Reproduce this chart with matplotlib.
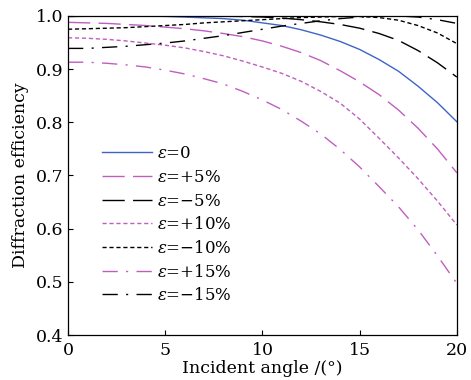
import numpy as np
import matplotlib
matplotlib.use('Agg')
import matplotlib.pyplot as plt

# Incident angle (deg) and diffraction efficiency
angle = np.arange(0, 21, 1)

eff_0 = [1.0, 1.0, 1.0, 0.9999, 0.9997, 0.9992, 0.998, 0.9965, 0.995, 0.992, 0.987,
         0.982, 0.974, 0.964, 0.952, 0.937, 0.918, 0.896, 0.868, 0.837, 0.801]
eff_p5 = [0.988, 0.987, 0.986, 0.984, 0.982, 0.979, 0.976, 0.972, 0.967, 0.961, 0.953,
          0.943, 0.931, 0.916, 0.897, 0.876, 0.852, 0.823, 0.789, 0.750, 0.705]
eff_m5 = [0.999, 0.9995, 1.0, 1.0, 1.0, 1.0, 1.0, 1.0, 0.9995, 0.999, 0.998,
          0.996, 0.993, 0.989, 0.984, 0.977, 0.967, 0.954, 0.935, 0.912, 0.885]
eff_p10 = [0.959, 0.958, 0.956, 0.953, 0.949, 0.945, 0.940, 0.933, 0.925, 0.915, 0.904,
           0.892, 0.877, 0.858, 0.836, 0.806, 0.770, 0.733, 0.694, 0.652, 0.607]
eff_m10 = [0.975, 0.976, 0.977, 0.978, 0.980, 0.982, 0.984, 0.987, 0.989, 0.991, 0.993,
           0.995, 0.997, 0.998, 0.999, 0.999, 0.997, 0.992, 0.982, 0.968, 0.948]
eff_p15 = [0.913, 0.913, 0.911, 0.908, 0.904, 0.898, 0.891, 0.882, 0.872, 0.858, 0.842,
           0.824, 0.802, 0.778, 0.749, 0.716, 0.679, 0.641, 0.598, 0.549, 0.497]
eff_m15 = [0.939, 0.939, 0.941, 0.943, 0.946, 0.949, 0.953, 0.958, 0.963, 0.969, 0.975,
           0.981, 0.986, 0.991, 0.995, 0.998, 0.9995, 1.0, 0.998, 0.993, 0.986]

labels = [r'$\varepsilon$=0', r'$\varepsilon$=+5%', r'$\varepsilon$=−5%',
          r'$\varepsilon$=+10%', r'$\varepsilon$=−10%', r'$\varepsilon$=+15%',
          r'$\varepsilon$=−15%']

plt.rcParams['font.family'] = 'DejaVu Serif'
plt.rcParams['mathtext.fontset'] = 'dejavuserif'

blue = '#3f64c8'
mag = '#c05ec0'
long_dash = (0, (16, 6))
short_dash = (0, (3, 2))
dash_dot = (0, (11, 6, 1.5, 6))

fig = plt.figure(figsize=(4.71, 3.80), dpi=100)
ax = fig.add_axes([0.1444, 0.1184, 0.8256, 0.8396])

ax.plot(angle, eff_0, color=blue, lw=1.0, label=labels[0])
ax.plot(angle, eff_p5, color=mag, lw=1.0, ls=long_dash, label=labels[1])
ax.plot(angle, eff_m5, color='black', lw=1.0, ls=long_dash, label=labels[2])
ax.plot(angle, eff_p10, color=mag, lw=1.0, ls=short_dash, label=labels[3])
ax.plot(angle, eff_m10, color='black', lw=1.0, ls=short_dash, label=labels[4])
ax.plot(angle, eff_p15, color=mag, lw=1.0, ls=dash_dot, label=labels[5])
ax.plot(angle, eff_m15, color='black', lw=1.0, ls=dash_dot, label=labels[6])

ax.set_xlim(0, 20)
ax.set_ylim(0.4, 1.0)
ax.set_xticks([0, 5, 10, 15, 20])
ax.set_yticks([0.4, 0.5, 0.6, 0.7, 0.8, 0.9, 1.0])
ax.set_yticklabels(['0.4', '0.5', '0.6', '0.7', '0.8', '0.9', '1.0'])
ax.tick_params(direction='in', length=3.5, width=0.8, labelsize=12.5)
ax.tick_params(axis='x', pad=5)
ax.tick_params(axis='y', pad=3)
for s in ax.spines.values():
    s.set_linewidth(0.9)

ax.set_xlabel('Incident angle /(°)', fontsize=12.5, labelpad=1)
ax.set_ylabel('Diffraction efficiency', fontsize=12.5, labelpad=5)

ax.legend(loc='upper left', bbox_to_anchor=(0.087, 0.595), frameon=False,
          fontsize=12, handlelength=3.0, handletextpad=0.3, labelspacing=0.4,
          borderpad=0, borderaxespad=0)

fig.savefig('out.png', dpi=100)
